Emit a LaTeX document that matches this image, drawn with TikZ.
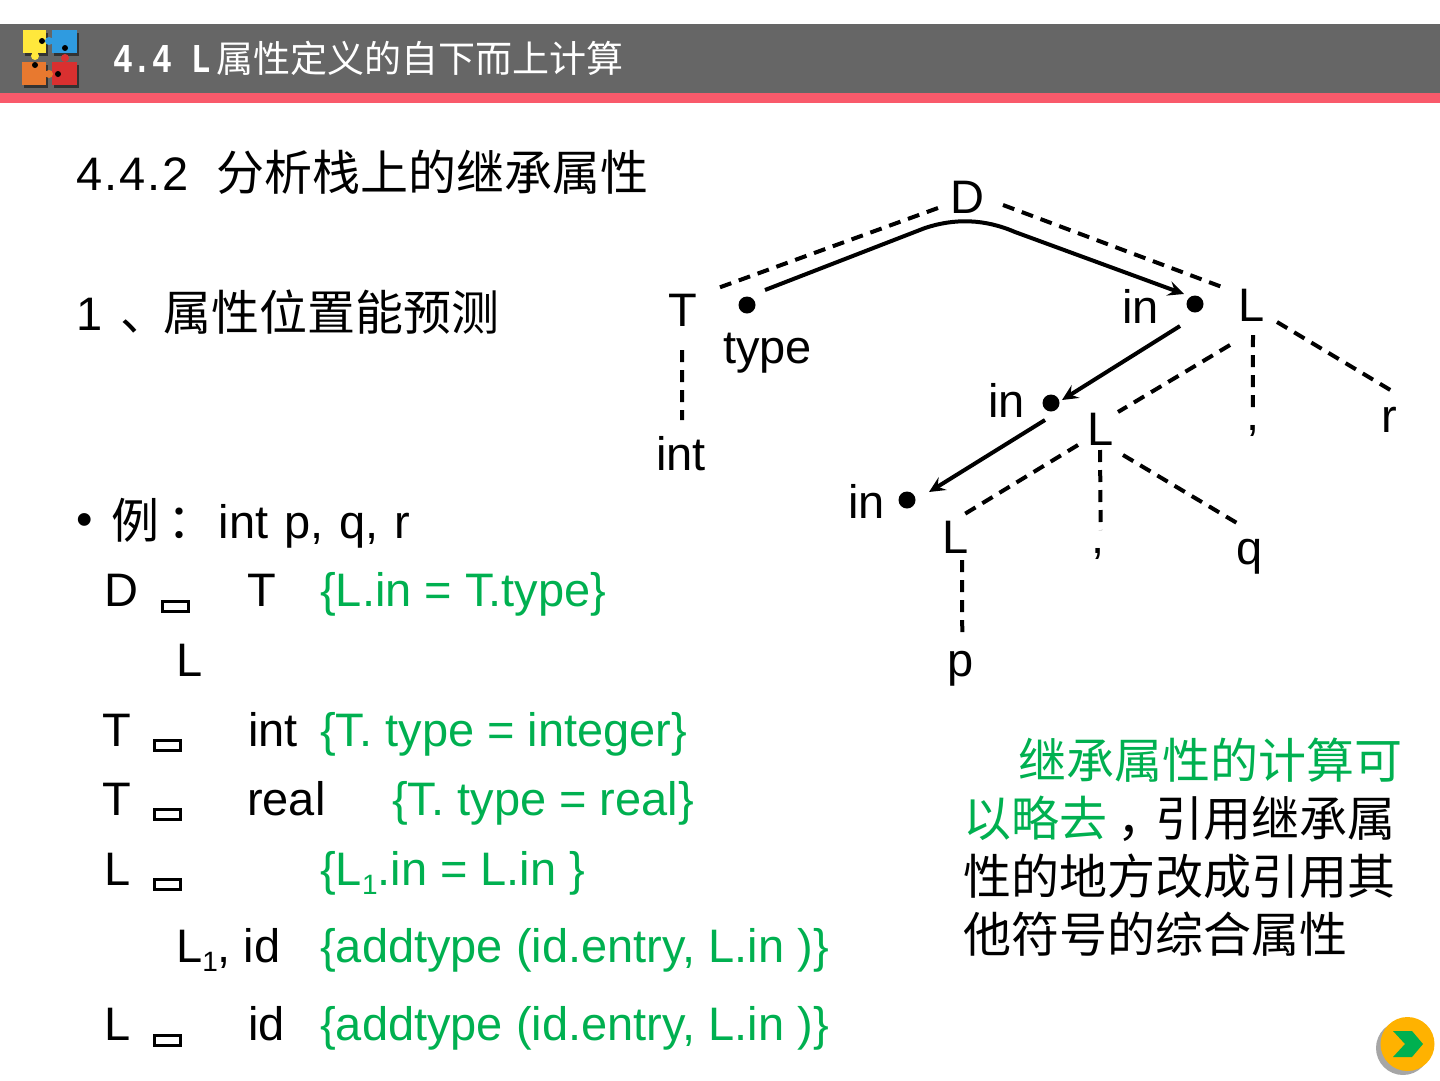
\documentclass[tikz,border=0pt]{standalone}
\usepackage{fontspec}
\setmainfont{Liberation Sans}
\newfontfamily\cjk{Noto Sans CJK SC}
\newfontfamily\titlemono[FakeStretch=0.8]{Liberation Mono Bold}
\usetikzlibrary{arrows.meta}
\definecolor{bandgray}{HTML}{666666}
\definecolor{bandred}{HTML}{F95A6B}
\definecolor{rulegreen}{HTML}{00B050}
\definecolor{pzyellow}{HTML}{FFE83C}
\definecolor{pzblue}{HTML}{2F9BE0}
\definecolor{pzorange}{HTML}{E8792F}
\definecolor{pzred}{HTML}{D93030}
\newcommand{\subone}{\raisebox{-9pt}{\fontsize{28}{28}\selectfont 1}}
\begin{document}
\begin{tikzpicture}[x=1pt, y=-1pt, font=\fontsize{47}{58}\selectfont,
  txt/.style={anchor=base west, inner sep=0pt},
  act/.style={txt, text=rulegreen},
  sym/.style={inner sep=0pt, text height=33pt, text depth=0pt},
  tofu/.style={draw=black, line width=3pt, minimum width=26pt, minimum height=10pt, inner sep=0pt},
  dotn/.style={circle, fill=black, minimum size=17pt, inner sep=0pt},
  dep/.style={line width=4pt, dash pattern=on 12pt off 8pt},
  flow/.style={line width=4pt, -{Stealth[length=16pt,width=15pt,inset=6pt]}}]
\useasboundingbox (0,0) rectangle (1440,1080);
\fill[bandgray] (0,24) rectangle (1440,93);
\fill[bandred] (0,93) rectangle (1440,103);
% logo
\fill[black!80] (25,33) rectangle (48,56); \fill[black!80] (54,33) rectangle (79,56);
\fill[black!80] (24,65) rectangle (48,88); \fill[black!80] (54,65) rectangle (79,88);
\fill[pzyellow] (23,30) rectangle (46,53); \fill[pzblue] (52,30) rectangle (77,53);
\fill[pzorange] (22,62) rectangle (46,85); \fill[pzred] (52,62) rectangle (77,85);
\fill[pzblue] (49,41) circle (4pt); \fill[pzyellow] (35,56) circle (4pt);
\fill[pzorange] (49,74) circle (4pt); \fill[pzred] (65,58) circle (4pt);
\fill[black] (42,41) circle (3pt); \fill[black] (65,48) circle (3pt); \fill[black] (35,65) circle (3pt); \fill[black] (58,74) circle (3pt);
\node[txt, text=white] (title) at (113,72) {\fontsize{41}{41}\selectfont\titlemono 4.4 L\hspace{5pt}\fontsize{37}{37}\selectfont\cjk 属性定义的自下而上计算};
\node[txt] (sec) at (76,190) {{\addfontfeature{LetterSpace=4}4.4.2}\hspace{28pt}{\fontsize{48}{58}\selectfont\cjk 分析栈上的继承属性}};
\node[txt] (one) at (76,330) {1\hspace{18pt}{\fontsize{48}{58}\selectfont\cjk 、\hspace{-5pt}属性位置能预测}};
\node[txt] (ex) at (76,538) {\raisebox{3pt}{\textbullet}\hspace{19pt}{\fontsize{48}{58}\selectfont\cjk 例\hspace{8pt}：}\hspace{3pt}int\hspace{3pt} p,\hspace{3pt} q,\hspace{3pt} r};
% productions
\node[txt] (r1a) at (104,606) {D}; \node[tofu] (b1) at (175,606) {};
\node[txt] (r1b) at (247,606) {T}; \node[act] (r1c) at (320,606) {\{L.in = T.type\}};
\node[txt] (r1d) at (176,676) {L};
\node[txt] (r2a) at (102,746) {T}; \node[tofu] (b2) at (167,745) {};
\node[txt] (r2b) at (248,746) {int}; \node[act] (r2c) at (320,746) {\{T. type = integer\}};
\node[txt] (r3a) at (102,815) {T}; \node[tofu] (b3) at (167,814) {};
\node[txt] (r3b) at (247,815) {real}; \node[act] (r3c) at (392,815) {\{T. type = real\}};
\node[txt] (r4a) at (104,885) {L}; \node[tofu] (b4) at (167,884) {};
\node[act] (r4c) at (320,885) {\{L\subone.in = L.in \}};
\node[txt] (r5b) at (176,962) {L\subone, id}; \node[act] (r5c) at (320,962) {\{addtype (id.entry, L.in )\}};
\node[txt] (r6a) at (104,1040) {L}; \node[tofu] (b6) at (167,1040) {};
\node[txt] (r6b) at (248,1040) {id}; \node[act] (r6c) at (320,1040) {\{addtype (id.entry, L.in )\}};
% tree
\node[sym] (D) at (967,197) {D}; \node[sym] (T) at (683,310) {T}; \node[sym] (L1) at (1252,305) {L};
\node[sym] (L2) at (1101,429) {L}; \node[sym] (L3) at (956,537) {L};
\node[txt] (int) at (656,470) {int}; \node[txt] (type) at (723,363) {type};
\node[txt] (inA) at (1122,323) {in}; \node[txt] (inB) at (988,417) {in}; \node[txt] (inC) at (848,518) {in};
\node[txt] (comA) at (1246,430) {,}; \node[txt] (r) at (1381,432) {r};
\node[txt] (comB) at (1091,553) {,}; \node[txt] (q) at (1236,564) {q}; \node[txt] (p) at (947,676) {p};
\node[dotn] (dotT) at (747,305) {}; \node[dotn] (dotA) at (1195,304) {};
\node[dotn] (dotB) at (1051,403) {}; \node[dotn] (dotC) at (907,500) {};
\draw[dep] ([shift={(-29,11)}]D.center) -- ([shift={(35,-22)}]T.center);
\draw[dep] ([shift={(36,8)}]D.center) -- ([shift={(-30,-18)}]L1.center);
\draw[dep] ([shift={(-1,40)}]T.center) -- ([shift={(1,-50)}]int.base);
\draw[dep] ([shift={(1,30)}]L1.center) -- ([shift={(0,-18)}]comA.base);
\draw[dep] ([shift={(25,17)}]L1.center) -- ([shift={(3,-41)}]r.base);
\draw[dep] ([shift={(-22,40)}]L1.center) -- ([shift={(17,-17)}]L2.center);
\draw[dep] ([shift={(-1,21)}]L2.center) -- ([shift={(3,-23)}]comB.base);
\draw[dep] ([shift={(22,26)}]L2.center) -- ([shift={(-9,-39)}]q.base);
\draw[dep] ([shift={(-23,16)}]L2.center) -- ([shift={(7,-22)}]L3.center);
\draw[dep] ([shift={(6,23)}]L3.center) -- ([shift={(2,-41)}]p.base);
\draw[flow] ([shift={(18,-15)}]dotT.center) -- (925,228) .. controls (955,218) and (985,219) .. (1015,232) -- ([shift={(-11,-10)}]dotA.center);
\draw[flow] ([shift={(-15,22)}]dotA.center) -- ([shift={(11,-3)}]dotB.center);
\draw[flow] ([shift={(-6,17)}]dotB.center) -- ([shift={(22,-8)}]dotC.center);
% note
\node[txt, anchor=north west, align=left, font=\fontsize{48}{58}\selectfont\cjk] (note) at (963,738) {\hspace*{55pt}\textcolor{rulegreen}{继承属性的计算可}\\\textcolor{rulegreen}{以略去}\hspace*{10pt}，\hspace*{-10pt}引用继承属\\性的地方改成引用其\\他符号的综合属性};
% next button
\fill[black!35] (1403,1048) circle (27pt);
\fill[orange!60!yellow] (1407.5,1044) circle (27pt);
\fill[rulegreen] (1393,1031) -- (1412,1031) -- (1423,1044) -- (1412,1057) -- (1393,1057) -- (1405,1044) -- cycle;
\end{tikzpicture}
\end{document}
